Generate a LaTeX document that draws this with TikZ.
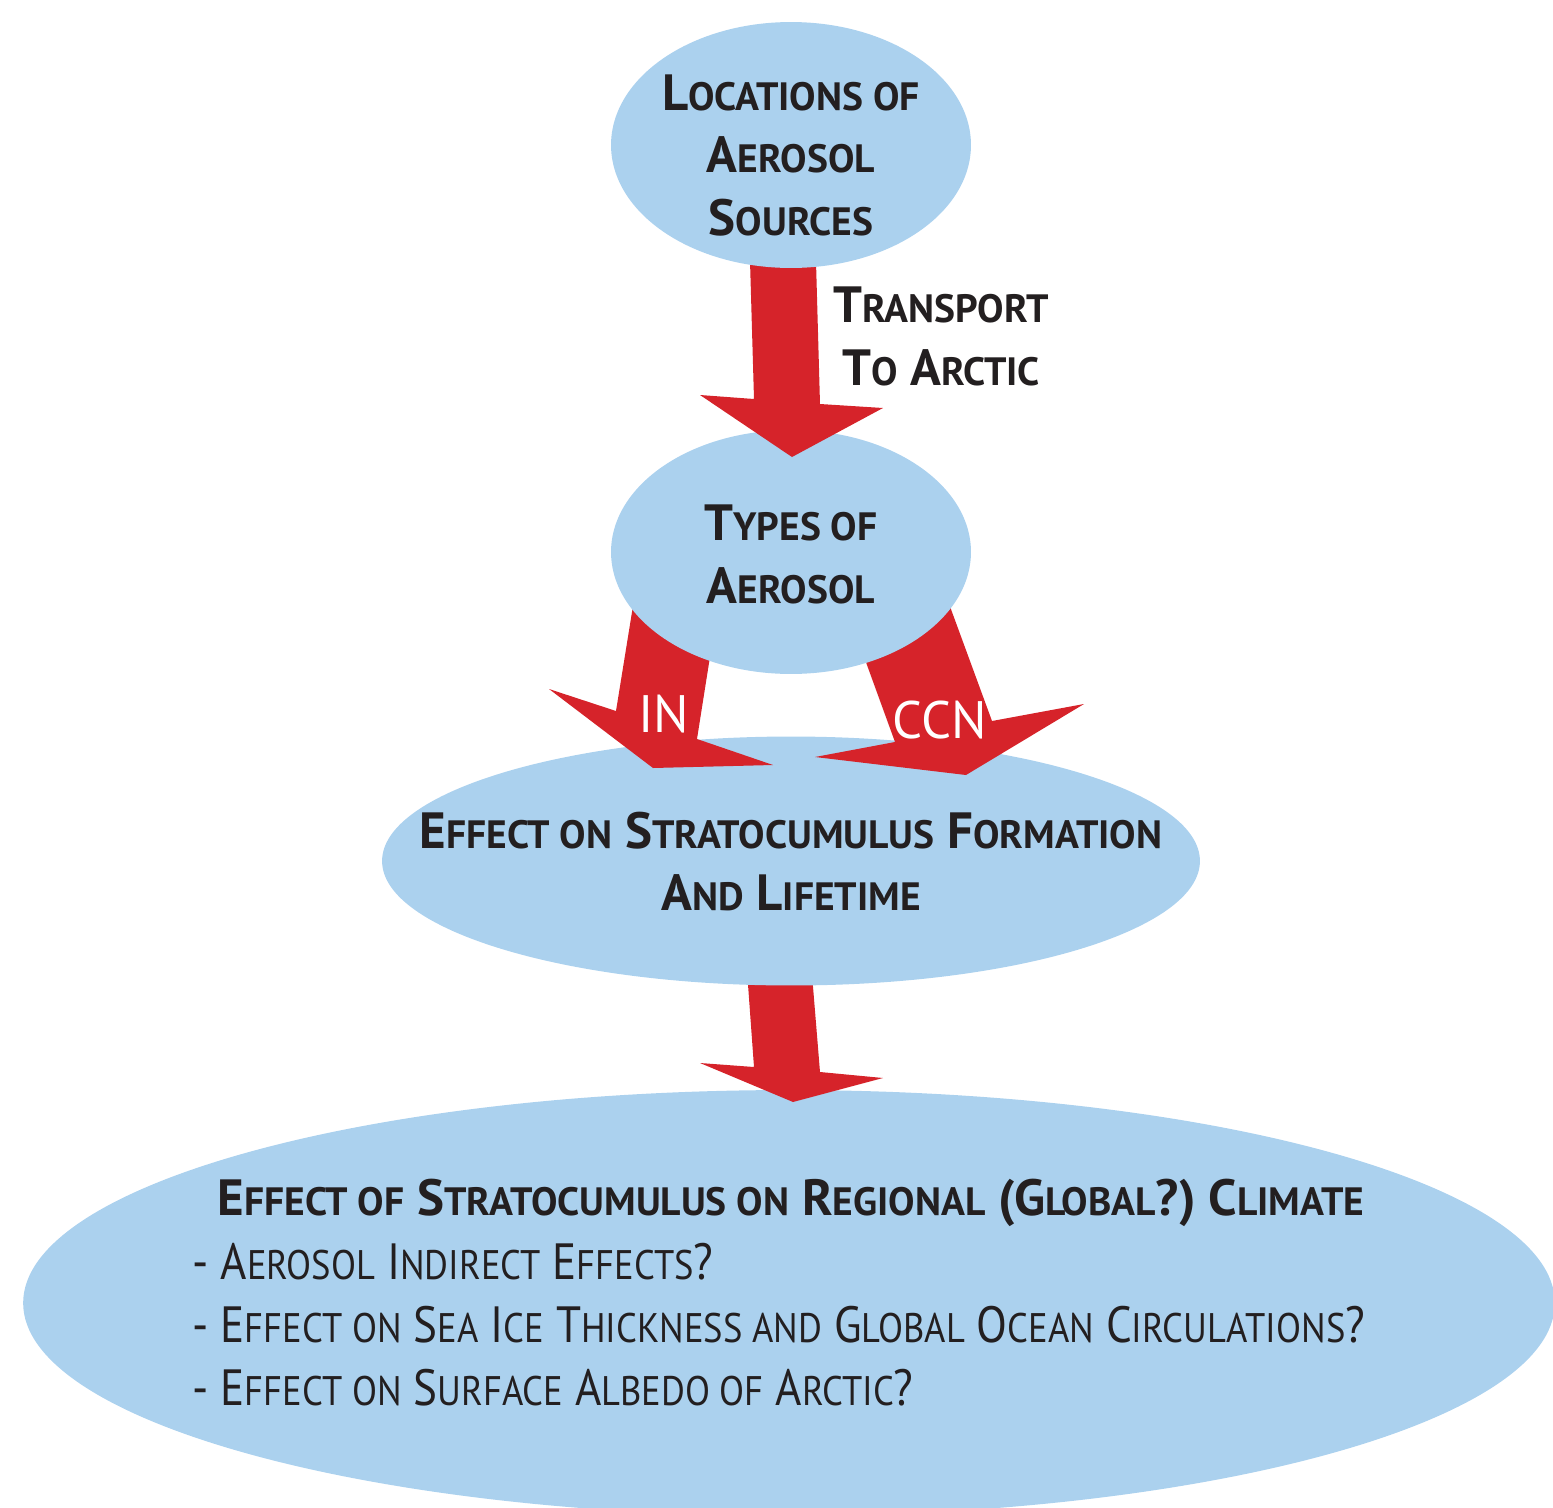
\documentclass[tikz,border=0pt]{standalone}
\usepackage{fontspec}
\setmainfont{PT Sans}
\newfontfamily\itemfont[FakeStretch=0.885]{PT Sans}
\usetikzlibrary{shapes.geometric}
\definecolor{ellblue}{HTML}{ABD1EE}
\definecolor{arrred}{HTML}{D6232A}
\definecolor{txtdark}{HTML}{231F20}
\newcommand\Bg{\fontsize{29}{36}\selectfont}
\newcommand\Sm{\fontsize{22.5}{36}\selectfont}
\newcommand\Smi{\fontsize{23.5}{36}\selectfont}
\newcommand\W[2]{{\Bg #1}{\Sm #2}}
\newcommand\V[2]{{\Bg #1}{\Smi #2}}
\tikzset{
  ell/.style={ellipse, fill=ellblue, draw=none, inner sep=0pt},
  bigarrow/.style={fill=arrred, draw=none},
  head/.style={anchor=base, text=txtdark, font=\bfseries\Bg, inner sep=0pt},
  item/.style={anchor=base west, text=txtdark, font=\itemfont\Bg, inner sep=0pt},
  arrlabel/.style={anchor=base, text=white, font=\fontsize{30}{36}\selectfont, inner sep=0pt}
}
\begin{document}
\begin{tikzpicture}[x=0.02cm, y=-0.02cm]
\useasboundingbox (0,0) rectangle (1553,1508);
\clip (0,0) rectangle (1553,1508);
% bottom ellipse
\node[ell, minimum width=30.64cm, minimum height=8.52cm] (e4) at (789,1303) {};
\node[head] (t4) at (791,1215) {\W{E}{FFECT OF} \W{S}{TRATOCUMULUS ON} \W{R}{EGIONAL} {\Bg (G}{\Sm LOBAL}{\Bg ?)} \W{C}{LIMATE}};
\node[item] (l1) at (192,1279) {- \V{A}{EROSOL} \V{I}{NDIRECT} \V{E}{FFECTS}{\Bg ?}};
\node[item] (l2) at (192,1342) {- \V{E}{FFECT ON} \V{S}{EA} \V{I}{CE} \V{T}{HICKNESS AND} \V{G}{LOBAL} \V{O}{CEAN} \V{C}{IRCULATIONS}{\Bg ?}};
\node[item] (l3) at (192,1405) {- \V{E}{FFECT ON} \V{S}{URFACE} \V{A}{LBEDO OF} \V{A}{RCTIC}{\Bg ?}};
% arrow 4
\fill[bigarrow] (745.5,950) -- (754,1067) -- (700,1063) -- (793,1102) -- (883,1078) -- (820,1072) -- (810,950) -- cycle;
% third ellipse
\node[ell, minimum width=16.36cm, minimum height=4.98cm] (e3) at (791,861) {};
\node[head] (t3a) at (791,848) {\W{E}{FFECT ON} \W{S}{TRATOCUMULUS} \W{F}{ORMATION}};
\node[head] (t3b) at (791,910) {\W{A}{ND} \W{L}{IFETIME}};
% IN and CCN arrows
\fill[bigarrow] (638.8,570) -- (616,711) -- (549,689) -- (653,768) -- (773,765) -- (697,739) -- (723.7,570) -- cycle;
\fill[bigarrow] (832.4,570) -- (895,742) -- (815,757) -- (966,775) -- (1084,704) -- (992,721) -- (936.6,570) -- cycle;
\node[arrlabel] (lin) at (664,732) {IN};
\node[arrlabel] (lccn) at (940,738) {CCN};
% middle ellipse
\node[ell, minimum width=7.2cm, minimum height=4.88cm] (e2) at (791,552) {};
\node[head] (t2a) at (791,540) {\W{T}{YPES OF}};
\node[head] (t2b) at (791,603) {\W{A}{EROSOL}};
% arrow 1
\fill[bigarrow] (749.4,240) -- (754,399) -- (700,395) -- (792,457) -- (883,408) -- (820,404) -- (815.4,240) -- cycle;
\node[head] (tr1) at (941,322) {\W{T}{RANSPORT}};
\node[head] (tr2) at (941,385) {\W{T}{O} \W{A}{RCTIC}};
% top ellipse
\node[ell, minimum width=7.2cm, minimum height=4.92cm] (e1) at (791,145) {};
\node[head] (t1a) at (791,110) {\W{L}{OCATIONS OF}};
\node[head] (t1b) at (791,172) {\W{A}{EROSOL}};
\node[head] (t1c) at (791,235) {\W{S}{OURCES}};
\end{tikzpicture}
\end{document}
